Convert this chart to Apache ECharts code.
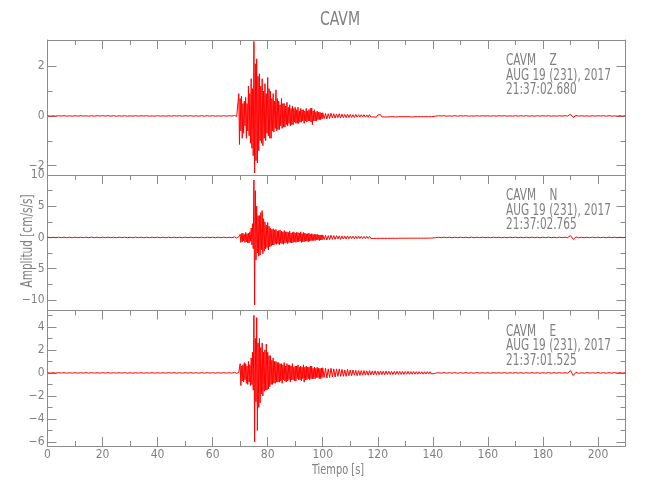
<!DOCTYPE html>
<html>
<head>
<meta charset="utf-8">
<script src="https://cdn.jsdelivr.net/npm/echarts@6/dist/echarts.min.js"></script>
<style>html,body{margin:0;padding:0;background:#fff}#c{width:650px;height:500px}</style>
</head>
<body>
<div id="c"></div>
<script>
// ---- data; segments: [start time, step, values] ----
const title = 'CAVM';
const xName = 'Tiempo [s]';
const yName = 'Amplitud [cm/s/s]';
const stationLabels = [
  ['CAVM    Z', 'AUG 19 (231), 2017', '21:37:02.680'],
  ['CAVM    N', 'AUG 19 (231), 2017', '21:37:02.765'],
  ['CAVM    E', 'AUG 19 (231), 2017', '21:37:01.525']
];
const xMajorTicks = [0,20,40,60,80,100,120,140,160,180,200];
const xMinorTicks = [10,30,50,70,90,110,130,150,170,190];
const yRanges = [[-2.38, 3.06], [-11.7, 10.0], [-6.35, 5.42]];
const yMajorTicks = [[-2,0,2], [-10,-5,0,5,10], [-6,-4,-2,0,2,4]];
const yMinorTicks = [[-1,1], [-7.5,-2.5,2.5,7.5], [-5,-3,-1,1,3,5]];

// Z component
const zPre = [0.01,-0.01,0.005,-0.01,0.01,-0.005,0.01,-0.01,0.005,-0.01,
  0.01,-0.01,0.01,-0.005,0.005,-0.01,0.01,-0.01,0.01,-0.005,
  0.01,-0.005,0.01,-0.01,0.01,-0.01,0.005,-0.01,0.01,-0.01,
  0.005,-0.01,0.01,-0.01,0.01,-0.005,0.01,-0.01,0.005,-0.01,
  0.01,-0.01,0.005,-0.01,0.01,-0.01,0.01,-0.005,0.01,-0.01,
  0.01,-0.005,0.01,-0.01,0.005,-0.01,0.01,-0.01,0.01,-0.01,
  0.01,-0.01,0.005,-0.01,0.01,-0.01,0.01,-0.005];
const zMain = [0.02,-0.02,0.03,-0.02,0.02,-0.03,
  0.9,-1.15,0.7,-0.6,
  0.8,-0.9,0.5,-0.7,0.6,-0.4,
  0.75,-0.9,0.5,-0.6,
  1.2,-0.8,0.9,-1.1,
  1.5,-1.3,1.1,-1.6,
  3.0,-2.3,2.1,-1.8,
  2.3,-1.9,1.6,-1.4,
  1.7,-1.0,1.2,-1.1,
  1.5,-1.2,1.0,-0.9,
  1.3,-1.0,0.9,-0.7,
  1.55,-0.8,1.1,-0.9,
  1.0,-0.9,0.7,-0.6,
  0.9,-0.65,0.6,-0.5,
  1.05,-0.6,0.7,-0.55,
  0.6,-0.55,0.45,-0.4,
  0.7,-0.5,0.5,-0.45,
  0.5,-0.45,0.4,-0.35,
  0.55,-0.4,0.35,-0.3,
  0.45,-0.4,0.3,-0.35,
  0.4,-0.35,0.3,-0.25,
  0.35,-0.3,0.25,-0.3,
  0.35,-0.3,0.2,-0.25,
  0.3,-0.25,0.25,-0.2,
  0.25,-0.3,0.2,-0.2,
  0.3,-0.25,0.2,-0.2,
  0.25,-0.2,0.3,-0.25,
  0.32,-0.35,0.2,-0.2,
  0.25,-0.2,0.15,-0.2,
  0.2,-0.15,0.15,-0.15,
  0.15,-0.15,0.12,-0.12];
const zTail = [0.13,-0.11,0.1,-0.12,0.09,-0.1,0.11,-0.08,0.09,-0.09,
  0.08,-0.07,0.09,-0.08,0.07,-0.07,0.06,-0.07,0.07,-0.06,
  0.06,-0.06,0.05,-0.06,0.06,-0.05,0.05,-0.05,0.05,-0.04,
  0.05,-0.05,0.04,-0.05,0.05,-0.04,0.04,-0.04,0.04,-0.05,
  0.04,-0.04,0.05,-0.04,0.04,-0.04,0.03,-0.04,0.04,-0.03,
  0.04,-0.03,0.03,-0.04,0.04,-0.03,0.03,-0.03,0.04,-0.03,
  0.03,-0.03,0.04,-0.03,0.03,-0.04,0.03,-0.03,0.03,-0.03,
  0.03,-0.03,0.03,-0.03,0.04,-0.03,0.03,-0.03,0.03,-0.03];
const zPost = [0.01,-0.01,0.01,-0.005,0.01,-0.01,0.005,-0.01,0.01,-0.01,
  0.01,-0.005,0.01,-0.01,0.005,-0.01,0.01,-0.01,0.01,-0.005,
  0.005,-0.01,0.01,-0.01,0.01,-0.005,0.01,-0.01,0.005,-0.01,
  0.01,-0.01,0.01,-0.005,0.01,-0.01,0.005,-0.01,0.01,-0.01,
  0.01,-0.005,0.01,-0.01,0.005,-0.01,0.01,-0.01,0.01,-0.005,
  0.07,-0.06,0.02,-0.01,0.01,-0.01,0.005,-0.01,0.01,-0.01,
  0.01,-0.005,0.01,-0.01,0.01,-0.01,0.005,-0.01,0.01,-0.01,0.01];

// N component
const nPre = [0.04,-0.03,0.03,-0.04,0.04,-0.03,0.04,-0.04,0.03,-0.04,
  0.04,-0.04,0.03,-0.03,0.04,-0.04,0.04,-0.03,0.03,-0.04,
  0.04,-0.03,0.04,-0.04,0.03,-0.04,0.04,-0.03,0.04,-0.04,
  0.03,-0.04,0.04,-0.03,0.04,-0.04,0.03,-0.03,0.04,-0.04,
  0.04,-0.04,0.03,-0.04,0.04,-0.03,0.04,-0.04,0.03,-0.04,
  0.04,-0.03,0.04,-0.04,0.03,-0.04,0.04,-0.04,0.04,-0.03,
  0.03,-0.04,0.04,-0.04,0.04,-0.03,0.03,-0.04];
const nMain = [0.1,-0.1,0.09,-0.1,0.1,-0.09,0.1,-0.1,
  0.5,-0.8,0.6,-0.7,
  0.7,-0.6,0.5,-0.8,
  0.8,-0.7,0.6,-0.9,
  0.7,-0.9,0.9,-0.6,
  1.5,-1.2,2.2,-1.8,
  9.2,-10.8,7.5,-3.6,
  5.0,-2.5,3.5,-3.0,
  3.5,-2.8,4.0,-2.0,
  4.3,-2.6,3.0,-2.2,
  2.5,-1.8,2.0,-1.6,
  2.4,-2.0,1.8,-1.5,
  1.5,-1.4,1.3,-1.2,
  1.4,-1.2,1.2,-1.0,
  1.3,-1.1,1.0,-1.0,
  1.1,-1.2,1.2,-0.9,
  1.0,-1.0,0.9,-1.1,
  1.1,-0.9,0.9,-0.8,
  0.9,-1.0,0.8,-0.8,
  1.0,-0.8,0.7,-0.9,
  0.8,-0.8,0.9,-0.7,
  0.7,-0.8,0.8,-0.7,
  0.8,-0.7,0.7,-0.6,
  0.9,-0.8,0.6,-0.7,
  0.8,-0.7,0.7,-0.6,
  0.6,-0.6,0.6,-0.7,
  0.7,-0.6,0.5,-0.5,
  0.6,-0.5,0.5,-0.5,
  0.5,-0.5,0.5,-0.4,
  0.5,-0.4,0.4,-0.5,
  0.4,-0.4,0.4,-0.4];
const nTail = [0.4,-0.35,0.35,-0.4,0.3,-0.35,0.35,-0.3,0.3,-0.3,
  0.3,-0.25,0.25,-0.3,0.25,-0.25,0.2,-0.25,0.25,-0.2,
  0.2,-0.2,0.2,-0.2,0.18,-0.2,0.2,-0.18,0.18,-0.17,
  0.17,-0.18,0.16,-0.17,0.18,-0.16,0.15,-0.16,0.16,-0.15,
  0.15,-0.15,0.16,-0.14,0.15,-0.15,0.14,-0.15,0.14,-0.14,
  0.14,-0.13,0.14,-0.14,0.13,-0.13,0.14,-0.12,0.13,-0.13,
  0.12,-0.13,0.12,-0.12,0.13,-0.12,0.12,-0.12,0.11,-0.12,
  0.12,-0.11,0.11,-0.12,0.11,-0.11,0.12,-0.11,0.11,-0.1];
const nPost = [0.04,-0.04,0.03,-0.04,0.04,-0.03,0.04,-0.04,0.03,-0.04,
  0.04,-0.03,0.03,-0.04,0.04,-0.04,0.03,-0.03,0.04,-0.04,
  0.03,-0.04,0.04,-0.03,0.04,-0.04,0.03,-0.04,0.04,-0.03,
  0.04,-0.04,0.03,-0.03,0.04,-0.04,0.04,-0.03,0.03,-0.04,
  0.04,-0.03,0.04,-0.04,0.03,-0.04,0.04,-0.03,0.04,-0.04,
  0.3,-0.3,0.08,-0.05,0.04,-0.04,0.03,-0.04,0.04,-0.03,
  0.04,-0.04,0.03,-0.04,0.04,-0.03,0.04,-0.04,0.03,-0.04,0.04];

// E component
const ePre = [0.02,-0.02,0.015,-0.02,0.02,-0.015,0.02,-0.02,0.015,-0.02,
  0.02,-0.02,0.015,-0.015,0.02,-0.02,0.02,-0.015,0.015,-0.02,
  0.02,-0.015,0.02,-0.02,0.015,-0.02,0.02,-0.015,0.02,-0.02,
  0.015,-0.02,0.02,-0.015,0.02,-0.02,0.015,-0.015,0.02,-0.02,
  0.02,-0.02,0.015,-0.02,0.02,-0.015,0.02,-0.02,0.015,-0.02,
  0.02,-0.015,0.02,-0.02,0.015,-0.02,0.02,-0.02,0.02,-0.015,
  0.015,-0.02,0.02,-0.02,0.02,-0.015,0.015,-0.02];
const eMain = [0.05,-0.05,0.06,-0.05,0.05,-0.06,0.05,-0.05,
  0.8,-1.1,0.6,-0.7,
  0.7,-0.8,0.9,-0.6,
  0.8,-0.9,0.6,-1.0,
  1.0,-0.8,0.7,-1.1,
  1.3,-1.0,1.8,-1.5,
  5.0,-6.0,3.0,-2.5,
  4.8,-5.0,2.6,-3.0,
  3.0,-2.6,2.2,-1.8,
  2.6,-2.0,1.8,-1.6,
  2.0,-1.5,2.5,-1.5,
  1.8,-1.4,1.5,-1.2,
  1.5,-1.0,1.1,-1.0,
  1.3,-0.9,1.0,-0.9,
  1.0,-0.8,0.9,-0.8,
  0.9,-0.8,0.8,-0.7,
  0.8,-0.9,0.7,-0.6,
  0.9,-0.7,0.6,-0.8,
  0.8,-0.7,0.7,-0.6,
  0.7,-0.8,0.6,-0.6,
  0.8,-0.6,0.5,-0.7,
  0.6,-0.7,0.6,-0.5,
  0.7,-0.6,0.5,-0.6,
  0.6,-0.7,0.5,-0.5,
  0.7,-0.8,0.5,-0.6,
  0.6,-0.6,0.5,-0.5,
  0.5,-0.6,0.6,-0.5,
  0.6,-0.5,0.4,-0.5,
  0.5,-0.5,0.4,-0.4,
  0.5,-0.4,0.4,-0.5,
  0.4,-0.5,0.4,-0.4];
const eTail = [0.45,-0.4,0.4,-0.45,0.35,-0.4,0.4,-0.35,0.35,-0.35,
  0.35,-0.3,0.35,-0.3,0.3,-0.3,0.25,-0.3,0.3,-0.25,
  0.25,-0.25,0.25,-0.2,0.22,-0.25,0.2,-0.22,0.2,-0.2,
  0.2,-0.2,0.18,-0.2,0.2,-0.17,0.17,-0.18,0.18,-0.16,
  0.16,-0.16,0.17,-0.15,0.15,-0.16,0.15,-0.14,0.15,-0.14,
  0.14,-0.14,0.13,-0.14,0.14,-0.13,0.13,-0.13,0.12,-0.13,
  0.12,-0.12,0.13,-0.12,0.11,-0.12,0.12,-0.11,0.11,-0.11,
  0.11,-0.1,0.1,-0.11,0.1,-0.1,0.11,-0.1,0.1,-0.1];
const ePost = [0.03,-0.02,0.02,-0.03,0.03,-0.02,0.02,-0.02,0.03,-0.03,
  0.02,-0.02,0.03,-0.02,0.02,-0.03,0.03,-0.02,0.02,-0.02,
  0.02,-0.03,0.03,-0.02,0.02,-0.02,0.03,-0.03,0.02,-0.02,
  0.03,-0.02,0.02,-0.03,0.02,-0.02,0.03,-0.02,0.02,-0.03,
  0.02,-0.02,0.03,-0.03,0.02,-0.02,0.03,-0.02,0.02,-0.02,
  0.2,-0.22,0.06,-0.04,0.02,-0.03,0.03,-0.02,0.02,-0.02,
  0.03,-0.02,0.02,-0.03,0.02,-0.02,0.03,-0.02,0.02,-0.02,0.02];

// sampling of each segment: [start time (s), step (s)]
const segPre = [0, 1], segMain = [68, 0.25], segTail = [100, 0.5], segPost = [140, 1];

// ---- build ----
function seg(s, arr) { return arr.map((v, i) => [s[0] + i * s[1], v]); }
function trace(pre, main, tail, post) {
  return seg(segPre, pre).concat(seg(segMain, main), seg(segTail, tail), seg(segPost, post));
}
const traces = [trace(zPre, zMain, zTail, zPost), trace(nPre, nMain, nTail, nPost), trace(ePre, eMain, eTail, ePost)];

const FONT = "'Liberation Sans Narrow', 'DejaVu Sans Condensed', 'Liberation Sans', sans-serif";
const AX = '#8c8c8c', TXT = '#808080';
const L = 47.5, W = 578;
const grids = [{top: 40, h: 135}, {top: 175, h: 135.5}, {top: 310.5, h: 135.5}];
const fmt = v => v < 0 ? '\u2212' + (-v) : String(v);
const NS = 0.78; // horizontal squeeze of free text to mimic the narrow plotting font

const option = {animation: false, backgroundColor: '#fff', grid: [], xAxis: [], yAxis: [], series: [], graphic: []};
grids.forEach((g, i) => {
  option.grid.push({left: L, width: W, top: g.top, height: g.h, containLabel: false});
  const isLast = i === grids.length - 1;
  const xb = {type: 'value', gridIndex: i, min: 0, max: 210, splitLine: {show: false},
    axisLine: {show: true, onZero: false, lineStyle: {color: AX, width: 1}}};
  const xi = option.xAxis.length;
  option.xAxis.push(Object.assign({}, xb, {position: 'bottom',
    axisTick: {show: isLast, inside: true, length: 9, customValues: xMajorTicks, lineStyle: {color: AX}},
    axisLabel: {show: isLast, customValues: xMajorTicks, color: TXT, fontFamily: FONT, fontSize: 12, margin: 3}}));
  option.xAxis.push(Object.assign({}, xb, {position: 'bottom', axisLine: {show: false, onZero: false},
    axisTick: {show: isLast, inside: true, length: 5, customValues: xMinorTicks, lineStyle: {color: AX}}, axisLabel: {show: false}}));
  option.xAxis.push(Object.assign({}, xb, {position: 'top',
    axisTick: {show: true, inside: true, length: 9, customValues: xMajorTicks, lineStyle: {color: AX}}, axisLabel: {show: false}}));
  option.xAxis.push(Object.assign({}, xb, {position: 'top', axisLine: {show: false, onZero: false},
    axisTick: {show: true, inside: true, length: 5, customValues: xMinorTicks, lineStyle: {color: AX}}, axisLabel: {show: false}}));

  const yb = {type: 'value', gridIndex: i, min: yRanges[i][0], max: yRanges[i][1], splitLine: {show: false},
    axisLine: {show: true, onZero: false, lineStyle: {color: AX, width: 1}}};
  const yi = option.yAxis.length;
  option.yAxis.push(Object.assign({}, yb, {position: 'left',
    axisTick: {show: true, inside: true, length: 9, customValues: yMajorTicks[i], lineStyle: {color: AX}},
    axisLabel: {show: true, customValues: yMajorTicks[i], formatter: fmt, color: TXT, fontFamily: FONT, fontSize: 12, margin: 3}}));
  option.yAxis.push(Object.assign({}, yb, {position: 'left', axisLine: {show: false, onZero: false},
    axisTick: {show: true, inside: true, length: 5, customValues: yMinorTicks[i], lineStyle: {color: AX}}, axisLabel: {show: false}}));
  option.yAxis.push(Object.assign({}, yb, {position: 'right',
    axisTick: {show: true, inside: true, length: 9, customValues: yMajorTicks[i], lineStyle: {color: AX}}, axisLabel: {show: false}}));
  option.yAxis.push(Object.assign({}, yb, {position: 'right', axisLine: {show: false, onZero: false},
    axisTick: {show: true, inside: true, length: 5, customValues: yMinorTicks[i], lineStyle: {color: AX}}, axisLabel: {show: false}}));

  option.series.push({type: 'line', xAxisIndex: xi, yAxisIndex: yi, data: traces[i], showSymbol: false, symbol: 'none',
    sampling: null, lineStyle: {color: '#ff0000', width: 1}, z: 1, silent: true});

  stationLabels[i].forEach((t, k) => {
    option.graphic.push({type: 'text', x: 506, y: g.top + 21.5 + k * 14.5, scaleX: NS,
      style: {text: t, font: '15px ' + FONT, fill: TXT, verticalAlign: 'middle'}});
  });
});
option.graphic.push({type: 'text', x: 340, y: 20, scaleX: NS,
  style: {text: title, font: '20px ' + FONT, fill: TXT, align: 'center', verticalAlign: 'middle'}});
option.graphic.push({type: 'text', x: 338, y: 470, scaleX: NS,
  style: {text: xName, font: '14px ' + FONT, fill: TXT, align: 'center', verticalAlign: 'middle'}});
option.graphic.push({type: 'text', x: 28, y: 241, rotation: Math.PI / 2, scaleX: NS,
  style: {text: yName, font: '15px ' + FONT, fill: TXT, align: 'center', verticalAlign: 'middle'}});

const chart = echarts.init(document.getElementById('c'), null, {renderer: 'canvas'});
chart.setOption(option);
</script>
</body>
</html>
